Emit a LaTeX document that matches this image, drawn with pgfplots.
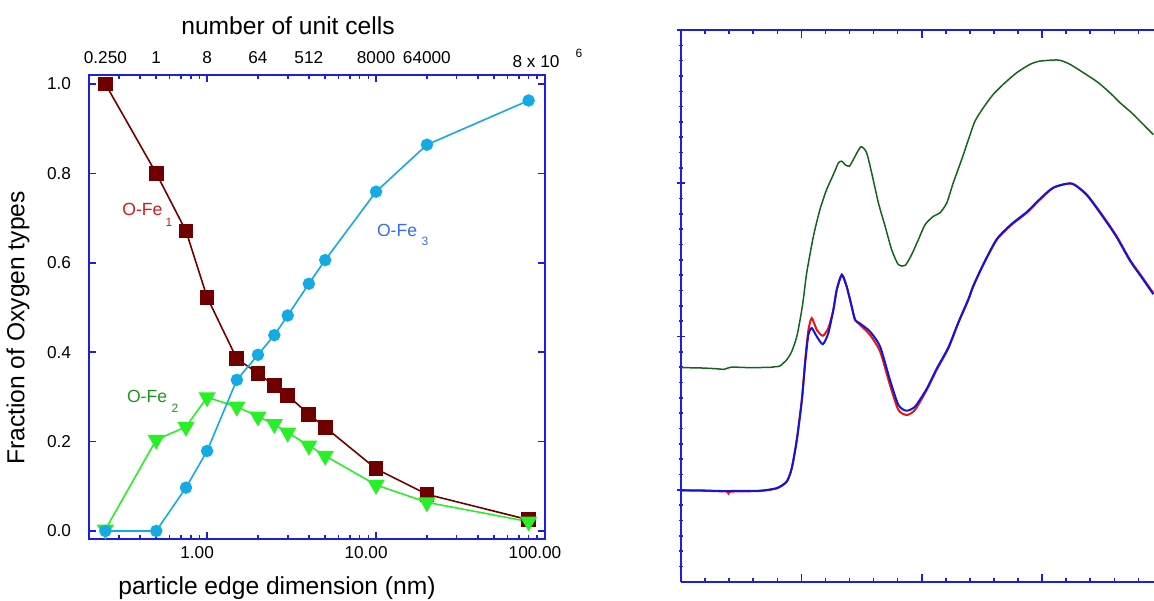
\documentclass[border=0pt]{standalone}
\usepackage{fontspec}
\setmainfont{Liberation Sans}
\usepackage{pgfplots}
\pgfplotsset{compat=1.18}

\definecolor{axblue}{RGB}{30,30,225}
\definecolor{feone}{RGB}{112,0,0}
\definecolor{fetwo}{RGB}{40,240,40}
\definecolor{fethree}{RGB}{20,170,230}
\definecolor{lblone}{RGB}{200,30,30}
\definecolor{lbltwo}{RGB}{30,150,30}
\definecolor{lblthree}{RGB}{50,110,240}
\definecolor{specgreen}{RGB}{20,100,30}
\definecolor{specred}{RGB}{235,20,20}
\definecolor{specblue}{RGB}{20,20,220}

\pgfplotsset{
  /pgf/number format/assume math mode=true,
  frame/.style={
    scale only axis,
    axis line style={axblue, line width=1pt},
    tick style={axblue, line width=0.8pt},
    tick align=inside,
  },
}

\begin{document}
\begin{tikzpicture}
\useasboundingbox (0,0) rectangle (577pt,-300pt);

% left panel: fraction of oxygen types vs particle size
\begin{axis}[
  frame,
  at={(44.5pt,-269.5pt)}, anchor=south west,
  width=228pt, height=232pt,
  xmode=log, xmin=0.2, xmax=100,
  ymin=-0.018, ymax=1.02,
  xtick={1,10,100}, xticklabels={1.00,10.00,100.00},
  minor xtick={0.2,0.3,0.4,0.5,0.6,0.7,0.8,0.9,2,3,4,5,6,7,8,9,20,30,40,50,60,70,80,90},
  ytick={0,0.2,0.4,0.6,0.8,1.0},
  yticklabel style={xshift=-5.5pt, /pgf/number format/fixed, /pgf/number format/fixed zerofill, /pgf/number format/precision=1},
  major tick length=3.5pt, minor tick length=2pt,
  tick label style={font=\fontsize{8.6}{10}\selectfont},
  xticklabel style={xshift=-5pt},
  clip=false,
]
\addplot[feone, line width=0.8pt, mark=square*, mark size=3.3pt] coordinates {
  (0.25,1.000) (0.5,0.800) (0.75,0.671) (1.0,0.523) (1.5,0.385) (2,0.353)
  (2.5,0.325) (3,0.303) (4,0.261) (5,0.232) (10,0.139) (20,0.082) (80,0.025)
};
\addplot[fetwo, line width=0.8pt, mark=triangle*, mark size=4.2pt, mark options={rotate=180}] coordinates {
  (0.25,0.003) (0.5,0.204) (0.75,0.233) (1.0,0.299) (1.5,0.278) (2,0.256)
  (2.5,0.239) (3,0.220) (4,0.191) (5,0.168) (10,0.103) (20,0.064) (80,0.021)
};
\addplot[fethree, line width=0.8pt, mark=*, mark size=2.7pt] coordinates {
  (0.25,0.0) (0.5,0.0) (0.75,0.097) (1.0,0.179) (1.5,0.338) (2,0.394)
  (2.5,0.438) (3,0.482) (4,0.553) (5,0.606) (10,0.759) (20,0.864) (80,0.963)
};
\end{axis}

% top scale: number of unit cells
\begin{axis}[
  scale only axis,
  at={(44.5pt,-269.5pt)}, anchor=south west,
  width=228pt, height=232pt,
  xmode=log, xmin=0.2, xmax=100, ymin=0, ymax=1,
  axis x line*=top, axis y line=none,
  axis line style={draw=none},
  xtick={0.25,0.5,1,2,4,10,20},
  xticklabels={0.250,1,8,64,512,8000,64000},
  major tick length=0pt, minor tick length=0pt,
  xtick style={draw=none},
  tick label style={font=\fontsize{8.6}{10}\selectfont},
  xticklabel style={yshift=2pt},
]
\end{axis}
\node[font=\fontsize{8.6}{10}\selectfont] at (268pt,-31pt) {8 x 10};
\node[font=\fontsize{6}{7}\selectfont, inner sep=0] at (289.5pt,-26.5pt) {6};

\node[font=\fontsize{12.3}{14}\selectfont] at (144pt,-13pt) {number of unit cells};
\node[font=\fontsize{12.3}{14}\selectfont] at (138.5pt,-294pt) {particle edge dimension (nm)};
\node[font=\fontsize{12.3}{14}\selectfont, rotate=90] at (9pt,-164pt) {Fraction of Oxygen types};

\node[anchor=west, inner sep=0, text=lblone, font=\fontsize{8.8}{10}\selectfont] at (61pt,-104.5pt) {O-Fe};
\node[text=lblone, inner sep=0, font=\fontsize{6}{7}\selectfont] at (84.5pt,-111pt) {1};
\node[anchor=west, inner sep=0, text=lbltwo, font=\fontsize{8.8}{10}\selectfont] at (63.3pt,-198.3pt) {O-Fe};
\node[text=lbltwo, inner sep=0, font=\fontsize{6}{7}\selectfont] at (87.5pt,-204pt) {2};
\node[anchor=west, inner sep=0, text=lblthree, font=\fontsize{8.8}{10}\selectfont] at (188.3pt,-115pt) {O-Fe};
\node[text=lblthree, inner sep=0, font=\fontsize{6}{7}\selectfont] at (212.5pt,-120.8pt) {3};

% right panel: spectra
\begin{axis}[
  frame,
  at={(340.5pt,-290.85pt)}, anchor=south west,
  width=236.5pt, height=275.85pt,
  xmin=525, xmax=544.65, ymin=-0.6, ymax=3.0,
  axis x line=box, axis y line=left,
  axis line style={-},
  xtick={525,530,535,540},
  minor xtick={526,527,528,529,531,532,533,534,536,537,538,539,541,542,543,544},
  ytick={0,1,2,3},
  minor ytick={-0.5,-0.4,-0.3,-0.2,-0.1,0.1,0.2,0.3,0.4,0.5,0.6,0.7,0.8,0.9,1.1,1.2,1.3,1.4,1.5,1.6,1.7,1.8,1.9,2.1,2.2,2.3,2.4,2.5,2.6,2.7,2.8,2.9},
  xticklabels={}, yticklabels={},
  major tick length=4pt, minor tick length=1.8pt,
  xtick pos=both,
]
\addplot[specgreen, line width=0.75pt, smooth, tension=0.4] coordinates {
  (525.00,0.797) (525.79,0.795) (526.45,0.790) (526.79,0.786) (527.08,0.800)
  (527.87,0.797) (528.70,0.799) (528.91,0.803) (529.11,0.808) (529.39,0.848)
  (529.60,0.902) (529.81,1.000) (529.97,1.131) (530.08,1.240) (530.22,1.414)
  (530.50,1.654) (530.77,1.828) (531.05,1.959) (531.33,2.057) (531.54,2.133)
  (531.68,2.144) (531.81,2.122) (531.99,2.111) (532.16,2.155) (532.47,2.238)
  (532.71,2.199) (532.92,2.068) (533.20,1.872) (533.48,1.719) (533.75,1.567)
  (534.03,1.469) (534.31,1.464) (534.58,1.534) (534.86,1.632) (535.14,1.730)
  (535.48,1.784) (535.76,1.807) (536.04,1.872) (536.31,2.003) (536.66,2.155)
  (536.94,2.285) (537.21,2.405) (537.56,2.493) (537.97,2.580) (538.46,2.656)
  (538.95,2.722) (539.50,2.776) (539.91,2.797) (540.68,2.804) (541.16,2.776)
  (541.71,2.722) (542.34,2.656) (542.89,2.580) (543.24,2.525) (543.72,2.460)
  (544.07,2.405) (544.41,2.351) (544.62,2.318)
};
\addplot[specred, line width=1pt, smooth, tension=0.4] coordinates {
  (525.00,-0.004) (525.80,-0.006) (526.62,-0.010) (526.90,-0.010) (526.97,-0.024)
  (527.10,-0.012) (528.28,-0.008) (528.98,0.009) (529.39,0.052) (529.60,0.140)
  (529.81,0.325) (530.02,0.586) (530.16,0.848) (530.29,1.040) (530.43,1.120)
  (530.64,1.044) (530.89,1.005) (531.12,1.055) (531.33,1.175) (531.47,1.305)
  (531.68,1.403) (531.88,1.327) (532.09,1.196) (532.23,1.109) (532.41,1.080)
  (532.85,1.011) (533.27,0.902) (533.68,0.684) (534.03,0.521) (534.38,0.488)
  (534.72,0.521) (535.21,0.652) (535.62,0.782) (536.11,0.924) (536.52,1.088)
  (536.94,1.240) (537.14,1.327) (537.56,1.469) (538.12,1.632) (538.74,1.730)
  (539.36,1.807) (539.91,1.893) (540.47,1.970) (541.23,1.998) (541.86,1.926)
  (542.54,1.784) (543.10,1.654) (543.65,1.501) (544.14,1.392) (544.62,1.284)
};
\addplot[specblue, line width=1pt, smooth, tension=0.4] coordinates {
  (525.00,-0.004) (525.80,-0.004) (526.62,-0.008) (527.10,-0.008) (528.28,-0.006)
  (528.98,0.011) (529.39,0.054) (529.60,0.140) (529.81,0.325) (530.02,0.586)
  (530.16,0.830) (530.29,1.010) (530.43,1.055) (530.64,1.000) (530.89,0.950)
  (531.12,1.022) (531.33,1.175) (531.47,1.305) (531.68,1.403) (531.88,1.327)
  (532.09,1.196) (532.23,1.109) (532.41,1.088) (532.85,1.033) (533.27,0.935)
  (533.68,0.717) (534.03,0.554) (534.35,0.516) (534.72,0.542) (535.21,0.660)
  (535.62,0.790) (536.11,0.930) (536.52,1.092) (536.94,1.245) (537.14,1.330)
  (537.56,1.472) (538.12,1.636) (538.74,1.735) (539.36,1.812) (539.91,1.897)
  (540.47,1.972) (541.23,1.998) (541.86,1.922) (542.54,1.778) (543.10,1.648)
  (543.65,1.495) (544.14,1.385) (544.62,1.276)
};
\end{axis}
\end{tikzpicture}
\end{document}
